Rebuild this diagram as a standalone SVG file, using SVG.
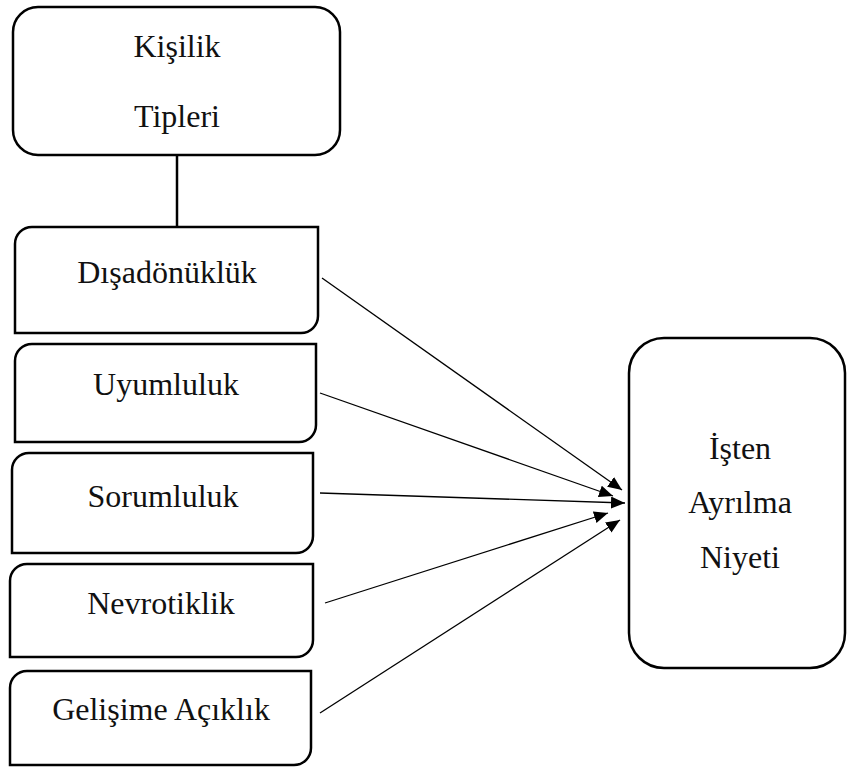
<svg xmlns="http://www.w3.org/2000/svg" width="847" height="768" viewBox="0 0 847 768">
<style>
.box{fill:#fff;stroke:#000;stroke-width:2.5}
.lbl{font-family:'Liberation Serif','Times New Roman',serif;font-size:32px;fill:#111;text-anchor:middle}
.con{stroke:#000;stroke-width:1.3;fill:none}
</style>
<defs>
<marker id="ah" markerUnits="userSpaceOnUse" markerWidth="15" markerHeight="12" refX="14" refY="6" orient="auto">
<path d="M0,0 L14,6 L0,12 Z" fill="#000"/>
</marker>
</defs>
<rect width="847" height="768" fill="#fff"/>
<g id="connectors">
<line class="con" x1="177" y1="155" x2="177" y2="227" style="stroke-width:2.5"/>
<line class="con" x1="322" y1="278" x2="622" y2="490" marker-end="url(#ah)"/>
<line class="con" x1="320" y1="393" x2="613" y2="496" marker-end="url(#ah)"/>
<line class="con" x1="320" y1="493" x2="625" y2="503" marker-end="url(#ah)"/>
<line class="con" x1="325" y1="603" x2="608" y2="513" marker-end="url(#ah)"/>
<line class="con" x1="320" y1="713" x2="620" y2="520" marker-end="url(#ah)"/>
</g>
<g id="kisilik">
<rect class="box" x="13" y="7" width="327" height="148" rx="25" ry="25"/>
<text class="lbl" x="177" y="57">Kişilik</text>
<text class="lbl" x="177" y="127">Tipleri</text>
</g>
<g id="disadonukluk">
<path class="box" d="M15,244 A17,17 0 0 1 32,227 H318 V316 A17,17 0 0 1 301,333 H15 Z"/>
<text class="lbl" x="167" y="283">Dışadönüklük</text>
</g>
<g id="uyumluluk">
<path class="box" d="M15,361 A17,17 0 0 1 32,344 H316 V425 A17,17 0 0 1 299,442 H15 Z"/>
<text class="lbl" x="166" y="395">Uyumluluk</text>
</g>
<g id="sorumluluk">
<path class="box" d="M12,470 A17,17 0 0 1 29,453 H313 V536 A17,17 0 0 1 296,553 H12 Z"/>
<text class="lbl" x="163" y="507">Sorumluluk</text>
</g>
<g id="nevrotiklik">
<path class="box" d="M10,581 A17,17 0 0 1 27,564 H313 V640 A17,17 0 0 1 296,657 H10 Z"/>
<text class="lbl" x="161" y="614">Nevrotiklik</text>
</g>
<g id="gelisime">
<path class="box" d="M10,688 A17,17 0 0 1 27,671 H311 V748 A17,17 0 0 1 294,765 H10 Z"/>
<text class="lbl" x="161" y="720">Gelişime Açıklık</text>
</g>
<g id="isten">
<rect class="box" x="629" y="338" width="216" height="330" rx="35" ry="35"/>
<text class="lbl" x="740" y="459">İşten</text>
<text class="lbl" x="740" y="513">Ayrılma</text>
<text class="lbl" x="740" y="568">Niyeti</text>
</g>
</svg>
